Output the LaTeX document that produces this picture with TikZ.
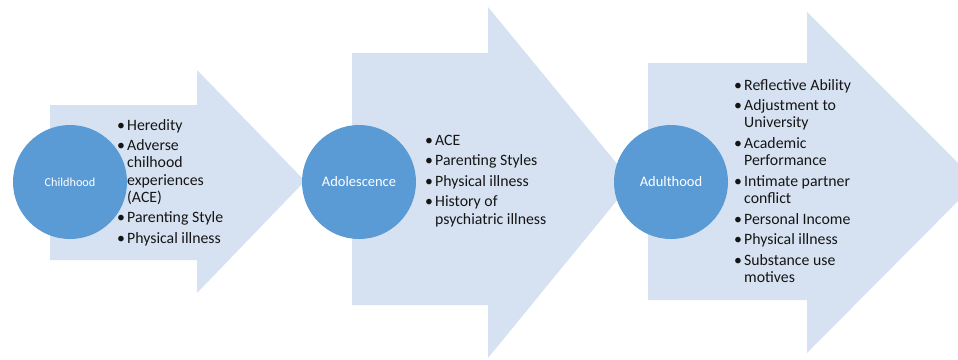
\documentclass[tikz,border=0pt]{standalone}
\usepackage{fontspec}
\setmainfont{Carlito}
\definecolor{arrowfill}{HTML}{D6E2F1}
\definecolor{circfill}{HTML}{5B9BD5}
\definecolor{listink}{HTML}{151515}
\newcommand{\bitem}[1]{\hangindent=10pt\hangafter=1\noindent\makebox[10pt][l]{•}#1\par}
\newcommand{\igap}{\vspace{3.4pt}}
\newcommand{\blist}[2]{\parbox[t]{#1}{\fontsize{15.8}{17.2}\selectfont\setlength{\parskip}{0pt}#2}}
\tikzset{
  arrowshape/.style={fill=arrowfill},
  stage/.style={circle, fill=circfill, text=white, minimum size=114pt, inner sep=0pt},
  listnode/.style={anchor=base west, inner sep=0pt, text=listink}
}
\begin{document}
\begin{tikzpicture}[x=1pt,y=-1pt]
\useasboundingbox (0,0) rectangle (958,359);
\begin{scope}
\clip (0,0) rectangle (958,359);
\fill[arrowshape] (50,105) -- (197,105) -- (197,70) -- (305,181) -- (197,293) -- (197,260) -- (50,260) -- cycle;
\fill[arrowshape] (352,53) -- (488,53) -- (488,7) -- (632,182) -- (488,358) -- (488,305) -- (352,305) -- cycle;
\fill[arrowshape] (648,63) -- (807,63) -- (807,12) -- (977,182) -- (807,353) -- (807,300) -- (648,300) -- cycle;
\end{scope}
\node[stage, font=\fontsize{12.2}{14}\selectfont] (c1) at (70,182) {Childhood};
\node[stage, font=\fontsize{14.5}{17}\selectfont] (c2) at (359,182) {Adolescence};
\node[stage, font=\fontsize{14.5}{17}\selectfont] (c3) at (671,182) {Adulthood};
\node[listnode] (l1) at (117,130) {\blist{140pt}{%
\bitem{Heredity}\igap
\bitem{Adverse\newline chilhood\newline experiences\newline (ACE)}\igap
\bitem{Parenting Style}\igap
\bitem{Physical illness}}};
\node[listnode] (l2) at (425,145) {\blist{160pt}{%
\bitem{ACE}\igap
\bitem{Parenting Styles}\igap
\bitem{Physical illness}\igap
\bitem{History of\newline psychiatric illness}}};
\node[listnode] (l3) at (734,90) {\blist{160pt}{%
\bitem{Reflective Ability}\igap
\bitem{Adjustment to\newline University}\igap
\bitem{Academic\newline Performance}\igap
\bitem{Intimate partner\newline conflict}\igap
\bitem{Personal Income}\igap
\bitem{Physical illness}\igap
\bitem{Substance use\newline motives}}};
\end{tikzpicture}
\end{document}
